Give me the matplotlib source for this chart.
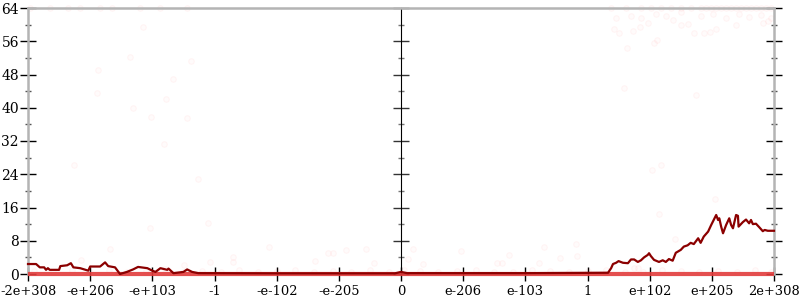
import matplotlib
matplotlib.use("Agg")
import matplotlib.pyplot as plt
from matplotlib.ticker import MultipleLocator, NullFormatter

# x positions are in "tick units": 0 .. 12, one unit between labelled ticks
tick_labels = ["-2e+308", "-e+206", "-e+103", "-1", "-e-102", "-e-205", "0",
               "e-206", "e-103", "1", "e+102", "e+205", "2e+308"]

# smoothed error line
line_x = [0.0, 0.13, 0.19, 0.26, 0.29, 0.32, 0.35, 0.50, 0.52, 0.63, 0.69, 0.73,
          0.84, 0.97, 1.00, 1.16, 1.24, 1.29, 1.40, 1.48, 1.59, 1.69, 1.77, 1.92,
          2.00, 2.05, 2.13, 2.24, 2.26, 2.34, 2.50, 2.56, 2.64, 2.74, 4.0, 5.9,
          6.0, 6.1, 8.0, 9.33, 9.38, 9.41, 9.46, 9.50, 9.57, 9.65, 9.70, 9.75,
          9.81, 9.86, 9.91, 9.97, 9.99, 10.02, 10.07, 10.15, 10.21, 10.26, 10.31,
          10.37, 10.42, 10.50, 10.55, 10.61, 10.66, 10.71, 10.78, 10.82, 10.87,
          10.94, 10.99, 11.03, 11.07, 11.10, 11.12, 11.15, 11.18, 11.23, 11.28,
          11.31, 11.34, 11.39, 11.42, 11.43, 11.50, 11.55, 11.60, 11.63, 11.66,
          11.71, 11.76, 11.82, 11.85, 11.90, 12.0]
line_y = [2.4, 2.4, 1.6, 1.6, 1.0, 1.4, 1.0, 1.0, 1.9, 2.1, 2.6, 1.6,
          1.4, 0.8, 1.8, 1.8, 2.8, 1.9, 1.6, 0.0, 0.5, 1.1, 1.7, 1.4,
          0.8, 0.5, 1.4, 1.0, 1.3, 0.2, 0.5, 1.1, 0.5, 0.2, 0.15, 0.15,
          0.5, 0.2, 0.2, 0.3, 1.4, 2.4, 2.7, 3.1, 2.7, 2.6, 3.5, 3.5,
          2.9, 3.3, 4.0, 4.6, 5.0, 4.3, 3.4, 2.9, 3.3, 2.9, 3.6,
          3.2, 5.1, 5.8, 6.6, 6.9, 7.5, 7.2, 8.6, 7.5, 9.0,
          10.2, 11.8, 13.0, 14.2, 13.0, 13.4, 11.4, 9.8, 11.8, 13.4,
          11.8, 11.0, 14.2, 14.0, 11.4, 12.5, 13.1, 12.2, 13.0, 12.0,
          12.1, 11.3, 10.3, 10.6, 10.4, 10.4]

# individual sample errors
pts_x = [0.03, 0.35, 0.64, 0.84, 1.16, 1.35, 1.80, 2.13, 2.56,
         9.38, 9.62, 9.86, 10.02, 10.18, 10.34, 10.50, 10.66, 10.82, 10.91,
         10.99, 11.07, 11.15, 11.23, 11.31, 11.39, 11.47, 11.55, 11.63, 11.71,
         11.79, 11.87, 11.95,
         9.70, 9.86, 10.10, 10.26, 10.37, 10.50, 10.82, 11.02, 11.23, 11.44,
         11.60, 11.79, 11.95,
         9.46, 9.42, 9.50, 9.73, 9.84, 9.97, 10.07, 10.12, 9.63, 9.58, 10.74,
         10.50, 10.62, 10.71, 10.87, 10.97, 11.07, 11.39, 11.82, 11.90,
         1.85, 1.64, 2.63, 1.13, 2.34, 1.11, 2.22, 1.69, 1.98, 2.55, 2.19,
         0.74, 2.74, 1.97, 1.32, 0.85, 2.51,
         2.90, 3.87, 3.29, 2.93, 3.30, 4.83, 4.90, 5.11, 5.44, 4.62, 5.56,
         6.19, 6.12, 6.96, 6.35, 7.73, 7.55, 7.62, 8.30, 8.81, 8.83, 8.55,
         8.22, 10.18, 10.04, 11.05, 10.15, 10.40, 9.75, 9.81,
         0.1, 0.4, 0.7, 1.0, 1.3, 1.6, 1.9, 2.2, 2.5, 2.8, 3.1, 3.4, 3.7,
         4.0, 4.3, 4.6, 4.9, 5.2, 5.5, 5.8, 6.05, 6.3, 6.6, 6.9, 7.2, 7.5,
         7.8, 8.1, 8.4, 8.7, 9.0, 9.3, 9.6, 9.9, 10.2, 10.5, 10.8, 11.1,
         11.4, 11.7, 11.95]
pts_y = [64, 64, 64, 64, 64, 64, 64, 64, 64,
         64, 64, 64, 64, 64, 64, 64, 64, 64, 64,
         64, 64, 64, 64, 64, 64, 64, 64, 64, 64,
         64, 64, 64,
         62, 61.5, 62.5, 62, 61, 63, 62, 62.5, 61.5, 62.5,
         61.8, 62.3, 61.5,
         61.5, 58.9, 58, 58.5, 59.5, 60.5, 55.6, 56.3, 54.4, 44.7, 43,
         60, 60.2, 58, 58, 58.3, 59, 60, 60.5, 60.8,
         59.5, 52.3, 51.2, 49, 46.9, 43.5, 42, 40, 37.8, 37.6, 31.2,
         26.2, 22.8, 11, 6, 3.4, 2.2,
         12.2, 6.6, 4.1, 2.9, 2.8, 5, 5, 5.8, 6, 3.1, 2.6,
         6, 3.6, 5.5, 2.4, 4.6, 2.7, 2.7, 6.5, 7.2, 4.3, 3.9,
         2.7, 26.2, 25, 18, 14.4, 8.4, 1.4, 1.4,
         0.8, 0.5, 1.0, 0.6, 0.9, 0.4, 0.7, 1.1, 0.5, 0.8, 0.6, 1.0, 0.5,
         0.7, 0.9, 0.4, 0.8, 0.6, 1.0, 0.5, 0.9, 0.7, 0.4, 0.8, 1.0, 0.6,
         0.5, 0.9, 0.7, 0.4, 0.8, 1.0, 0.6, 0.5, 0.9, 0.7, 0.4, 0.8,
         0.6, 1.0, 0.5]

baseline_x = [0, 12]
baseline_y = [0.1, 0.1]

plt.rcParams['font.family'] = 'DejaVu Serif'
fig = plt.figure(figsize=(8, 3), dpi=100)
ax = fig.add_axes([28/800, 26/300, 746/800, 266/300])

ax.scatter(pts_x, pts_y, s=16, facecolor=(1, 0.3, 0.3, 0.02),
           edgecolor=(1, 0.3, 0.3, 0.05), linewidth=0.8, zorder=2, clip_on=False)
ax.plot(baseline_x, baseline_y, color='#e23c3c', lw=3, alpha=0.9, zorder=3,
        solid_capstyle='butt', clip_on=False)
ax.plot(line_x, line_y, color='#8b0000', lw=1.6, zorder=4, clip_on=False)

ax.set_xlim(0, 12)
ax.set_ylim(0, 64)
ax.set_xticks(range(len(tick_labels)))
ax.set_xticklabels(tick_labels)
ax.yaxis.set_major_locator(MultipleLocator(8))
ax.yaxis.set_minor_locator(MultipleLocator(4))

gray = '#b4b4b4'
for side in ['left', 'right', 'top', 'bottom']:
    ax.spines[side].set_color(gray)
    ax.spines[side].set_linewidth(1.8)
ax.spines['bottom'].set_visible(False)

ax.tick_params(axis='x', direction='inout', length=10, width=1, color='black',
               labelsize=9.4, pad=3)
ax.tick_params(axis='y', which='major', direction='inout', length=11, width=1,
               color='black', labelsize=10, pad=1, right=True)
ax.tick_params(axis='y', which='minor', direction='inout', length=5, width=1,
               color='#555555', right=True)

# zero axis in the middle of the plot
mid = ax.secondary_yaxis(0.5)
mid.spines['left'].set_color(gray)
mid.spines['left'].set_linewidth(2.2)
mid.yaxis.set_major_locator(MultipleLocator(8))
mid.yaxis.set_minor_locator(MultipleLocator(4))
mid.yaxis.set_major_formatter(NullFormatter())
mid.tick_params(which='major', direction='inout', length=11, width=1,
                color='#333333', labelleft=False, labelright=False)
mid.tick_params(which='minor', direction='inout', length=5, width=1,
                color='#777777')

fig.savefig("out.png", dpi=100)
